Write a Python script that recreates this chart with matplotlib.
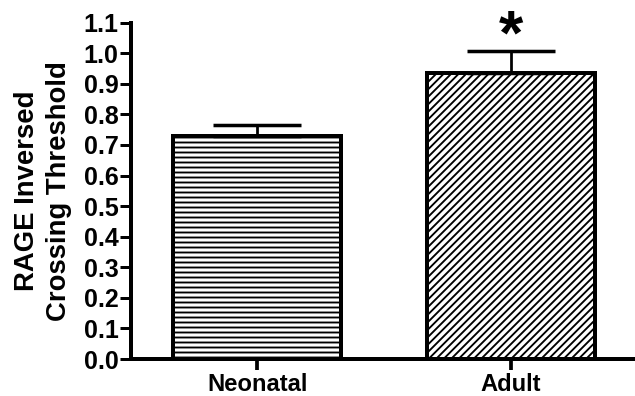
import matplotlib
matplotlib.use("Agg")
import matplotlib.pyplot as plt
import numpy as np

groups = ["Neonatal", "Adult"]
means = [0.730, 0.935]
sems = [0.037, 0.072]
hatches = ["---", "////"]
sig = ["", "*"]
yticks = [0.0, 0.1, 0.2, 0.3, 0.4, 0.5, 0.6, 0.7, 0.8, 0.9, 1.0, 1.1]

plt.rcParams['font.family'] = ['Liberation Sans', 'DejaVu Sans']
plt.rcParams['font.weight'] = 'bold'
plt.rcParams['hatch.linewidth'] = 1.5

DPI = 90
fig = plt.figure(figsize=(635 / DPI, 396 / DPI), dpi=DPI)
ax = fig.add_axes([131 / 635, 1 - 359 / 396, 1 - 131 / 635, (359 - 22.7) / 396])

x = np.arange(len(groups))
for i in range(len(groups)):
    ax.bar(x[i], means[i], width=0.664, color='white', edgecolor='black',
           linewidth=3.2, hatch=hatches[i], zorder=2)
    ax.errorbar(x[i], means[i], yerr=[[0], [sems[i]]], fmt='none', ecolor='black',
                elinewidth=2.2, capsize=35, capthick=2.8, zorder=3)
    if sig[i]:
        # star sits just above the error cap
        ax.text(x[i], means[i] + sems[i] - 0.05, sig[i], ha='center', va='bottom',
                fontsize=50, fontweight='bold')

ax.set_xlim(-0.498, 1.49)
ax.set_ylim(0, 1.1)
ax.set_yticks(yticks)
ax.set_yticklabels([f"{t:.1f}" for t in yticks])
ax.set_xticks(x)
ax.set_xticklabels(groups)

for s in ['top', 'right']:
    ax.spines[s].set_visible(False)
for s in ['left', 'bottom']:
    ax.spines[s].set_linewidth(3.2)

ax.tick_params(axis='y', length=9, width=2.4, pad=1, labelsize=20)
ax.tick_params(axis='x', length=9, width=3, pad=2, labelsize=19)
ax.set_ylabel("RAGE Inversed\nCrossing Threshold", fontsize=22, fontweight='bold',
              linespacing=1.3)
ax.yaxis.set_label_coords(-0.118, 0.5)

fig.savefig("out.png", dpi=DPI)
